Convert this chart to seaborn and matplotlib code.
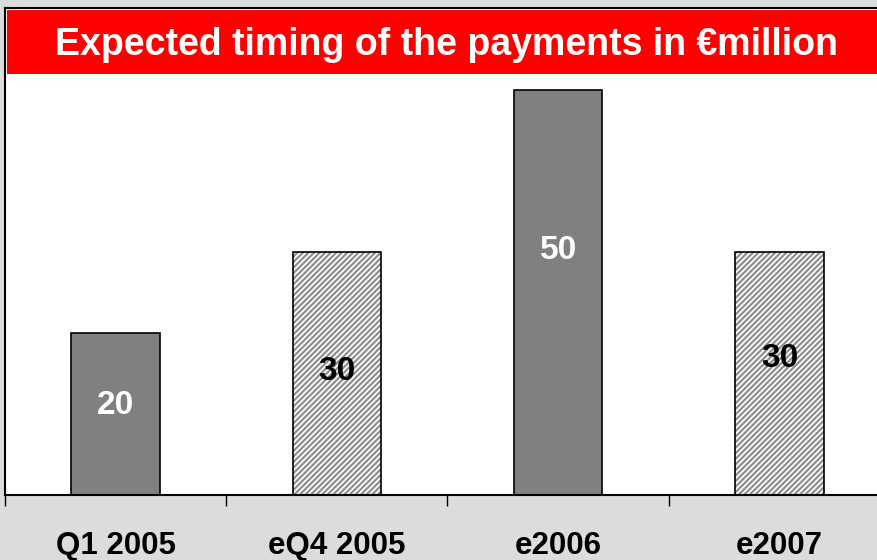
import matplotlib
matplotlib.use("Agg")
import matplotlib.pyplot as plt
import seaborn as sns
import pandas as pd
from matplotlib.patches import Rectangle

categories = ["Q1 2005", "eQ4 2005", "e2006", "e2007"]
values = [20, 30, 50, 30]
hatched = [False, True, False, True]
label_colors = ["white", "black", "white", "black"]
label_y = [11.1, 15.2, 30.2, 16.9]
title = "Expected timing of the payments in \u20acmillion"

sns.set_theme(style="white")
plt.rcParams['font.family'] = ['Liberation Sans', 'DejaVu Sans']
plt.rcParams['hatch.linewidth'] = 1.6

W, H = 878, 560
fig = plt.figure(figsize=(W / 100, H / 100), dpi=100, facecolor="#dcdcdc")
ax = fig.add_axes([5 / W, (H - 495) / H, 885 / W, (495 - 8) / H])
ax.set_facecolor("white")

df = pd.DataFrame({"cat": categories, "val": values})
sns.barplot(data=df, x="cat", y="val", ax=ax, width=0.4,
            color="#808080", edgecolor="black", linewidth=1.2, saturation=1)

for p, h in zip(list(ax.patches), hatched):
    if h:
        p.set_facecolor("white")
        p.set_hatch("//////")
        p.set_edgecolor("#8f8f8f")
        p.set_linewidth(0)
        ax.add_patch(Rectangle(p.get_xy(), p.get_width(), p.get_height(),
                               fill=False, edgecolor="black", linewidth=1.2,
                               zorder=p.get_zorder() + 0.1))

for i, (v, c, ly) in enumerate(zip(values, label_colors, label_y)):
    ax.text(i, ly, str(v), ha="center", va="center", color=c,
            fontsize=24, fontweight="bold", zorder=10)

ax.set_xlim(-0.5, 3.5)
ax.set_ylim(0, 60.1)
ax.set_xlabel("")
ax.set_ylabel("")
ax.set_yticks([])
ax.set_xticks(range(4))
ax.set_xticklabels(categories, fontsize=22.5, fontweight="bold", color="black")
ax.tick_params(axis="x", which="major", length=0, pad=26)
ax.set_xticks([-0.5, 0.5, 1.5, 2.5], minor=True)
ax.tick_params(axis="x", which="minor", length=8, width=1, color="black",
               direction="out", bottom=True)
for s in ["left", "top", "bottom"]:
    ax.spines[s].set_color("black")
    ax.spines[s].set_linewidth(1.5)
ax.spines["right"].set_visible(False)

# title banner
fig.patches.append(Rectangle((7 / W, (H - 74) / H), 880 / W, 64 / H,
                             transform=fig.transFigure, facecolor="#ff0000",
                             edgecolor="none", zorder=5))
fig.text(447 / W, (H - 55) / H, title, ha="center", va="baseline", color="white",
         fontsize=27, fontweight="bold", zorder=6)

fig.savefig("out.png", dpi=100, facecolor=fig.get_facecolor())
